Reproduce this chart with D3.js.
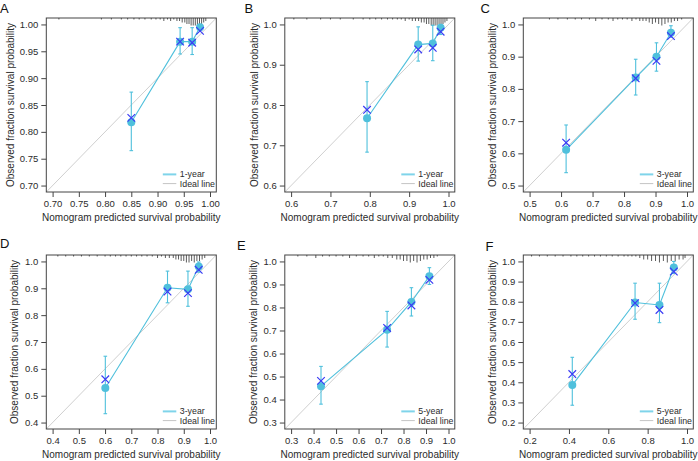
<!DOCTYPE html>
<html>
<head>
<meta charset="utf-8">
<script src="https://cdn.jsdelivr.net/npm/d3@7/dist/d3.min.js"></script>
<style>
  body { margin: 0; background: #fff; }
  svg { display: block; font-family: "Liberation Sans", Arial, sans-serif; }
</style>
</head>
<body>
<svg id="chart" width="698" height="461"></svg>
<script>
//  panel letters and legend labels
const panelLetters = ["A", "B", "C", "D", "E", "F"];
const seriesLabels = ["1-year", "1-year", "3-year", "3-year", "5-year", "5-year"];
const axisLow = [0.70, 0.6, 0.5, 0.4, 0.3, 0.2];
const tickDigits = [2, 1, 1, 1, 1, 1];

const xTicks = [
  [0.70, 0.75, 0.80, 0.85, 0.90, 0.95, 1.00],
  [0.6, 0.7, 0.8, 0.9, 1.0],
  [0.5, 0.6, 0.7, 0.8, 0.9, 1.0],
  [0.4, 0.5, 0.6, 0.7, 0.8, 0.9, 1.0],
  [0.3, 0.4, 0.5, 0.6, 0.7, 0.8, 0.9, 1.0],
  [0.2, 0.4, 0.6, 0.8, 1.0]
];
const yTicks = [
  [0.70, 0.75, 0.80, 0.85, 0.90, 0.95, 1.00],
  [0.6, 0.7, 0.8, 0.9, 1.0],
  [0.5, 0.6, 0.7, 0.8, 0.9, 1.0],
  [0.4, 0.5, 0.6, 0.7, 0.8, 0.9, 1.0],
  [0.3, 0.4, 0.5, 0.6, 0.7, 0.8, 0.9, 1.0],
  [0.2, 0.3, 0.4, 0.5, 0.6, 0.7, 0.8, 0.9, 1.0]
];

//  calibration groups: predicted, observed, error bar low / high, bias corrected
const predicted = [
  [0.850, 0.943, 0.966, 0.981],
  [0.793, 0.923, 0.960, 0.980],
  [0.616, 0.837, 0.903, 0.949],
  [0.601, 0.838, 0.916, 0.957],
  [0.433, 0.727, 0.835, 0.915],
  [0.417, 0.736, 0.860, 0.933]
];
const observed = [
  [0.818, 0.968, 0.968, 0.995],
  [0.767, 0.950, 0.953, 0.992],
  [0.611, 0.835, 0.900, 0.974],
  [0.529, 0.902, 0.896, 0.981],
  [0.458, 0.703, 0.824, 0.936],
  [0.386, 0.796, 0.784, 0.970]
];
const errLow = [
  [0.765, 0.945, 0.944, 0.990],
  [0.683, 0.909, 0.910, 0.975],
  [0.540, 0.781, 0.855, 0.960],
  [0.433, 0.846, 0.833, 0.960],
  [0.380, 0.628, 0.763, 0.900],
  [0.286, 0.713, 0.696, 0.940]
];
const errHigh = [
  [0.874, 0.994, 0.994, 1.000],
  [0.858, 0.994, 0.998, 1.000],
  [0.688, 0.892, 0.943, 0.996],
  [0.647, 0.964, 0.964, 0.998],
  [0.544, 0.783, 0.886, 0.973],
  [0.524, 0.892, 0.892, 1.000]
];
const corrected = [
  [0.826, 0.968, 0.966, 0.988],
  [0.788, 0.938, 0.942, 0.982],
  [0.633, 0.833, 0.887, 0.964],
  [0.561, 0.888, 0.882, 0.969],
  [0.481, 0.711, 0.809, 0.920],
  [0.441, 0.793, 0.759, 0.950]
];

//  distribution of predictions (rug at top)
const rugValues = [
  [0.712, 0.793, 0.812, 0.831, 0.843, 0.855, 0.865, 0.876, 0.888, 0.897, 0.905, 0.912, 0.919, 0.925, 0.931, 0.937, 0.942, 0.947, 0.952, 0.956, 0.960, 0.964, 0.968, 0.972, 0.976, 0.980, 0.984, 0.988, 0.992],
  [0.607, 0.640, 0.675, 0.700, 0.725, 0.758, 0.783, 0.800, 0.815, 0.830, 0.845, 0.858, 0.870, 0.880, 0.890, 0.900, 0.908, 0.916, 0.924, 0.931, 0.938, 0.944, 0.950, 0.956, 0.961, 0.966, 0.971, 0.976, 0.981, 0.986, 0.991, 0.996],
  [0.563, 0.590, 0.620, 0.645, 0.665, 0.690, 0.710, 0.730, 0.750, 0.765, 0.780, 0.795, 0.810, 0.825, 0.838, 0.850, 0.860, 0.870, 0.880, 0.890, 0.900, 0.910, 0.920, 0.930, 0.940, 0.950, 0.960, 0.970, 0.983],
  [0.420, 0.450, 0.480, 0.510, 0.540, 0.570, 0.600, 0.620, 0.640, 0.660, 0.680, 0.700, 0.720, 0.740, 0.760, 0.780, 0.800, 0.815, 0.830, 0.845, 0.860, 0.870, 0.880, 0.890, 0.900, 0.910, 0.920, 0.930, 0.940, 0.950, 0.960, 0.970, 0.980],
  [0.330, 0.370, 0.410, 0.440, 0.470, 0.500, 0.530, 0.560, 0.590, 0.620, 0.645, 0.670, 0.690, 0.710, 0.730, 0.750, 0.770, 0.785, 0.800, 0.815, 0.830, 0.845, 0.860, 0.875, 0.890, 0.905, 0.920, 0.935, 0.950],
  [0.210, 0.250, 0.290, 0.330, 0.370, 0.410, 0.440, 0.470, 0.500, 0.530, 0.560, 0.590, 0.620, 0.650, 0.680, 0.700, 0.720, 0.740, 0.760, 0.780, 0.800, 0.820, 0.840, 0.860, 0.880, 0.900, 0.920, 0.940, 0.960, 0.980, 0.990]
];
const rugCounts = [
  [1, 1, 1, 1, 1, 1, 1, 1, 1, 1, 1, 2, 1, 2, 1, 2, 2, 3, 3, 4, 4, 5, 5, 5, 5, 4, 4, 3, 2],
  [1, 1, 1, 1, 1, 1, 1, 1, 1, 1, 1, 1, 1, 1, 2, 1, 2, 2, 2, 3, 3, 4, 4, 5, 5, 5, 5, 4, 5, 4, 3, 2],
  [1, 1, 1, 1, 1, 1, 2, 1, 1, 2, 1, 1, 1, 2, 1, 2, 2, 2, 3, 4, 3, 4, 5, 4, 3, 3, 2, 2, 1],
  [1, 1, 1, 1, 1, 1, 1, 1, 1, 1, 1, 1, 1, 1, 1, 1, 2, 1, 2, 2, 2, 3, 3, 4, 4, 5, 5, 4, 5, 4, 4, 3, 2],
  [1, 1, 2, 1, 1, 1, 1, 2, 1, 1, 1, 2, 1, 1, 2, 2, 3, 3, 4, 4, 5, 4, 5, 4, 3, 3, 2, 2, 1],
  [1, 1, 1, 1, 1, 1, 1, 1, 1, 1, 1, 1, 1, 1, 1, 1, 1, 1, 2, 3, 3, 4, 4, 5, 4, 5, 4, 4, 3, 3, 2]
];

//  colours
const cyan = "#4fc0dc";
const blue = "#3a3af5";
const ideal = "#cfcfcf";
const ink = "#2b2b2b";

//  layout
const colLeft = [46.3, 284.8, 523.3];
const rowTop = [18, 255];
const boxW = 170, boxH = 174;
const letterPos = [[0, 12.5], [244.5, 12.5], [480.5, 12.5], [0, 247.5], [237, 249.5], [485.5, 250.5]];
const yTitleX = [10.5, 254.5, 492, 14.5, 253.7, 492];

const svg = d3.select("#chart");

function draw_panel(i) {
  const left = colLeft[i % 3];
  const top = rowTop[Math.floor(i / 3)];
  const lo = axisLow[i];
  const pad = 0.04 * (1 - lo);

  const x = d3.scaleLinear().domain([lo - pad, 1 + pad]).range([left, left + boxW]);
  const y = d3.scaleLinear().domain([lo - pad, 1 + pad]).range([top + boxH, top]);
  const fmt = d3.format("." + tickDigits[i] + "f");

  const g = svg.append("g");

  //  clip for ideal line
  const clipId = "clip" + i;
  g.append("clipPath").attr("id", clipId)
    .append("rect").attr("x", left).attr("y", top).attr("width", boxW).attr("height", boxH);

  //  ideal line
  g.append("line")
    .attr("clip-path", "url(#" + clipId + ")")
    .attr("x1", x(lo - pad)).attr("y1", y(lo - pad))
    .attr("x2", x(1 + pad)).attr("y2", y(1 + pad))
    .attr("stroke", ideal).attr("stroke-width", 1);

  //  axes
  const xa = g.append("g")
    .attr("transform", `translate(0,${top + boxH})`)
    .call(d3.axisBottom(x).tickValues(xTicks[i]).tickFormat(fmt).tickSize(5).tickPadding(3));
  const ya = g.append("g")
    .attr("transform", `translate(${left},0)`)
    .call(d3.axisLeft(y).tickValues(yTicks[i]).tickFormat(fmt).tickSize(5).tickPadding(3));
  [xa, ya].forEach(a => {
    a.select(".domain").remove();
    a.selectAll("line").attr("stroke", "#444");
    a.selectAll("text").attr("fill", ink).style("font-size", "9.5px")
      .style("font-family", "'Liberation Sans', Arial, sans-serif");
  });

  //  box
  g.append("rect")
    .attr("x", left).attr("y", top).attr("width", boxW).attr("height", boxH)
    .attr("fill", "none").attr("stroke", "#444").attr("stroke-width", 1);

  //  rug of predictions
  g.selectAll(".rug").data(rugValues[i].map((v, k) => [v, rugCounts[i][k]]))
    .enter().append("line")
    .attr("x1", d => x(d[0])).attr("x2", d => x(d[0]))
    .attr("y1", top).attr("y2", d => top + 1.5 * d[1])
    .attr("stroke", "#333").attr("stroke-width", 0.8);

  const pts = predicted[i].map((p, k) => ({
    p: p, o: observed[i][k], lo: errLow[i][k], hi: errHigh[i][k], c: corrected[i][k]
  }));

  //  calibration line
  g.append("path")
    .attr("d", d3.line().x(d => x(d.p)).y(d => y(d.o))(pts))
    .attr("fill", "none").attr("stroke", cyan).attr("stroke-width", 1.1);

  //  error bars
  pts.forEach(d => {
    g.append("line").attr("x1", x(d.p)).attr("x2", x(d.p))
      .attr("y1", y(d.lo)).attr("y2", y(d.hi))
      .attr("stroke", cyan).attr("stroke-width", 1.1);
    [d.lo, d.hi].forEach(v => {
      g.append("line").attr("x1", x(d.p) - 1.8).attr("x2", x(d.p) + 1.8)
        .attr("y1", y(v)).attr("y2", y(v))
        .attr("stroke", cyan).attr("stroke-width", 1.1);
    });
  });

  //  observed points
  g.selectAll(".pt").data(pts).enter().append("circle")
    .attr("cx", d => x(d.p)).attr("cy", d => y(d.o)).attr("r", 4)
    .attr("fill", cyan);

  //  bias corrected
  g.selectAll(".bc").data(pts).enter().append("path")
    .attr("d", "M-3.8,-3.8L3.8,3.8M-3.8,3.8L3.8,-3.8")
    .attr("transform", d => `translate(${x(d.p)},${y(d.c)})`)
    .attr("stroke", blue).attr("stroke-width", 1.2).attr("fill", "none");

  //  legend
  const lx = left + boxW;
  const ly = top + boxH;
  g.append("line").attr("x1", lx - 53.5).attr("x2", lx - 40)
    .attr("y1", ly - 17.6).attr("y2", ly - 17.6)
    .attr("stroke", "#7fd4ea").attr("stroke-width", 2);
  g.append("line").attr("x1", lx - 53.5).attr("x2", lx - 40)
    .attr("y1", ly - 8.4).attr("y2", ly - 8.4)
    .attr("stroke", "#c4c4c4").attr("stroke-width", 1);
  g.append("text").attr("x", lx - 36.5).attr("y", ly - 17.6).attr("dy", "0.35em")
    .style("font-size", "8.8px").attr("fill", ink).text(seriesLabels[i]);
  g.append("text").attr("x", lx - 36.5).attr("y", ly - 8.4).attr("dy", "0.35em")
    .style("font-size", "8.8px").attr("fill", ink).text("Ideal line");

  //  axis titles
  g.append("text")
    .attr("x", left + boxW / 2).attr("y", top + boxH + 25).attr("dy", "0.35em")
    .attr("text-anchor", "middle").style("font-size", "10px").attr("fill", ink)
    .text("Nomogram predicted survival probability");
  g.append("text")
    .attr("transform", `translate(${yTitleX[i]},${top + boxH / 2}) rotate(-90)`)
    .attr("dy", "0.35em")
    .attr("text-anchor", "middle").style("font-size", "10px").attr("fill", ink)
    .text("Observed fraction survival probability");

  //  panel letter
  g.append("text")
    .attr("x", letterPos[i][0]).attr("y", letterPos[i][1])
    .style("font-size", "13px").attr("fill", "#111")
    .text(panelLetters[i]);
}

panelLetters.forEach((l, i) => draw_panel(i));
</script>
</body>
</html>
